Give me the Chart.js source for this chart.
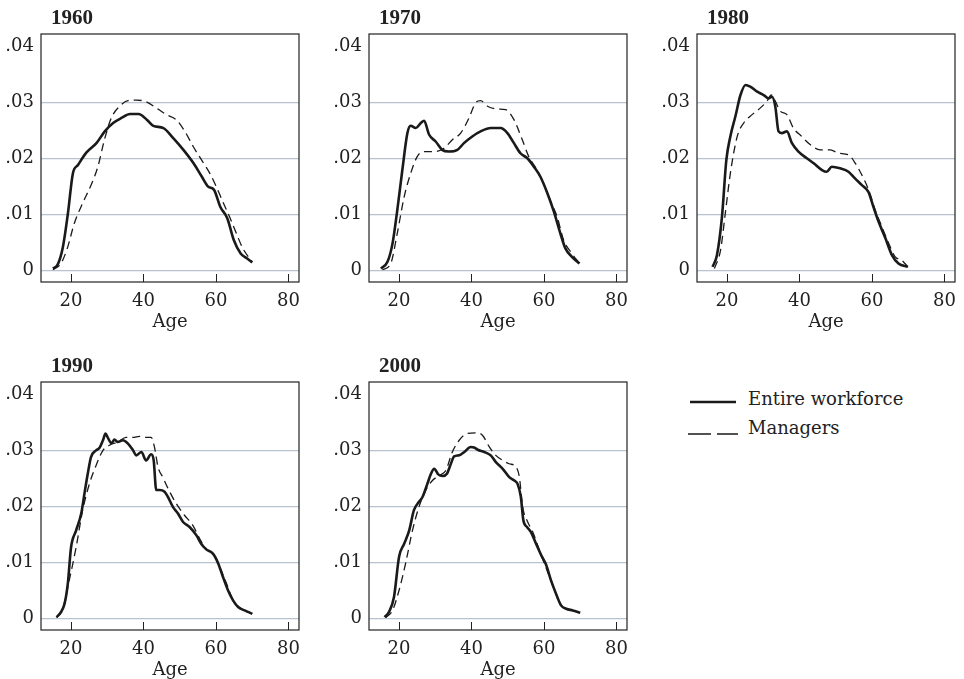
<!DOCTYPE html>
<html>
<head>
<meta charset="utf-8">
<script src="https://cdn.jsdelivr.net/npm/chart.js@4.4.1/dist/chart.umd.min.js"></script>
<style>
	body { margin: 0; background: #fff; width: 964px; height: 679px; position: relative; overflow: hidden; font-family: "DejaVu Serif", serif; color: #222; }
	canvas { position: absolute; }
	.ttl { position: absolute; font-family: "Liberation Serif", serif; font-weight: bold; font-size: 21px; line-height: 21px; color: #222; }
	.leg { position: absolute; font-size: 18px; line-height: 20px; color: #222; }
	.legline { position: absolute; }
</style>
</head>
<body>
<div class="legline" style="left:688px; top:392px;"><svg width="52" height="10"><line x1="2" y1="5" x2="48" y2="5" stroke="#1a1a1a" stroke-width="2.6"/></svg></div>
<div class="leg" style="left:748px; top:389px;">Entire workforce</div>
<div class="legline" style="left:686px; top:424px;"><svg width="56" height="10"><line x1="2" y1="5" x2="52" y2="5" stroke="#1a1a1a" stroke-width="1.3" stroke-dasharray="23 6"/></svg></div>
<div class="leg" style="left:748px; top:418px;">Managers</div>
<script>
// tick labels
var xTicks = [ 20, 40, 60, 80 ];
var yTicks = [ 0, 0.01, 0.02, 0.03, 0.04 ];
var years = [ "1960", "1970", "1980", "1990", "2000" ];

// 1960
var ageEntire1960 = [ 15, 16.3, 17.7, 19.1, 20.5, 21.9, 24.2, 27, 29.3, 31.6, 33.9, 36.3, 38.6, 40.9, 42.7, 45.5, 48.2, 51, 53.8, 56.1, 57.9, 59.4, 61.2, 63.1, 64.9, 66.8, 68.6, 70 ];
var entire1960 = [ 0.0003, 0.001, 0.004, 0.010, 0.0173, 0.0188, 0.021, 0.0227, 0.0248, 0.0263, 0.0272, 0.0279, 0.0279, 0.0269, 0.0258, 0.0254, 0.0236, 0.0215, 0.0191, 0.0167, 0.0149, 0.0144, 0.0113, 0.0093, 0.0054, 0.003, 0.0021, 0.0014 ];
var ageManagers1960 = [ 15, 17.2, 19, 20.9, 23.2, 25.5, 27.4, 29.2, 31.1, 33.4, 35.7, 38, 40.7, 43.5, 46.3, 49, 51.4, 53.7, 56, 58.3, 60.1, 61.9, 63.7, 65.6, 67.4, 70 ];
var managers1960 = [ 0.0001, 0.0012, 0.004, 0.0084, 0.012, 0.0152, 0.0185, 0.0233, 0.0272, 0.0293, 0.0303, 0.0304, 0.0301, 0.029, 0.0278, 0.0269, 0.0248, 0.0221, 0.0197, 0.0173, 0.0149, 0.0122, 0.0096, 0.0066, 0.0039, 0.0015 ];

// 1970
var ageEntire1970 = [ 15, 16.8, 18.2, 19.5, 20.9, 22.3, 23.2, 24.6, 26, 26.9, 28.3, 30.1, 31.9, 33.7, 36.1, 37.9, 40.2, 42.5, 45.3, 48, 49.9, 51.7, 53.5, 55.4, 57.2, 59, 60.9, 62.7, 64.5, 65.9, 67.7, 69.8 ];
var entire1970 = [ 0.0003, 0.0015, 0.0048, 0.0107, 0.0179, 0.0245, 0.0258, 0.0254, 0.0263, 0.0267, 0.0242, 0.023, 0.0215, 0.0212, 0.0215, 0.0227, 0.0239, 0.0248, 0.0254, 0.0254, 0.0245, 0.0227, 0.0209, 0.02, 0.0185, 0.0167, 0.0138, 0.0105, 0.0066, 0.0039, 0.0024, 0.0012 ];
var ageManagers1970 = [ 15.4, 17.7, 19.5, 21.4, 23.2, 25, 26.9, 29.6, 32.4, 34.7, 37, 39.3, 41.1, 42.5, 44.4, 47.1, 49.4, 51.7, 54, 55.8, 58.1, 59.9, 61.7, 63.6, 65.4, 67.7, 69.8 ];
var managers1970 = [ 0.0001, 0.0012, 0.0066, 0.0131, 0.0173, 0.0203, 0.0212, 0.0212, 0.0218, 0.0233, 0.0245, 0.0272, 0.0299, 0.0303, 0.0293, 0.0288, 0.0287, 0.0269, 0.0233, 0.0203, 0.0179, 0.0155, 0.0125, 0.0096, 0.0054, 0.003, 0.0012 ];

// 1980
var ageEntire1980 = [ 16, 17.2, 18.6, 19.8, 20.9, 22.3, 23.7, 25.1, 26.4, 28.3, 30.1, 31.5, 32.4, 33.3, 34.2, 35.1, 36.5, 37.9, 39.7, 42, 43.9, 46.2, 47.5, 48.9, 51.2, 53.5, 55.3, 57.2, 59, 60.4, 61.8, 63.7, 65.5, 67.3, 69.9 ];
var entire1980 = [ 0.0006, 0.0027, 0.0096, 0.0197, 0.0239, 0.0275, 0.0313, 0.0331, 0.0328, 0.0319, 0.0313, 0.0307, 0.031, 0.0293, 0.0248, 0.0245, 0.0248, 0.0227, 0.0212, 0.02, 0.0191, 0.0179, 0.0176, 0.0185, 0.0182, 0.0176, 0.0164, 0.0152, 0.014, 0.0113, 0.0087, 0.0057, 0.0027, 0.0012, 0.0006 ];
var ageManagers1980 = [ 16.5, 18.2, 19.5, 20.9, 22.8, 24.6, 26.9, 29.2, 31, 32.2, 33.3, 34.7, 36.5, 38.3, 40.6, 43, 45.7, 48.5, 50.8, 53.5, 55.4, 57.2, 59.1, 60.9, 62.7, 64.6, 66.4, 68.2, 69.9 ];
var managers1980 = [ 0.0003, 0.0036, 0.0101, 0.0173, 0.0239, 0.0263, 0.0278, 0.029, 0.0302, 0.0313, 0.0302, 0.0284, 0.0278, 0.0254, 0.0239, 0.0224, 0.0215, 0.0215, 0.0209, 0.0206, 0.0191, 0.017, 0.0143, 0.0107, 0.0078, 0.0048, 0.0024, 0.0018, 0.0006 ];

// 1990
var ageEntire1990 = [ 16, 17.2, 18.2, 19.1, 20, 21.4, 22.8, 23.7, 24.6, 25.5, 26.9, 27.8, 28.8, 29.5, 30.1, 31.1, 32, 32.9, 34.3, 35.7, 37.1, 38, 39.4, 40.7, 42.1, 42.8, 43.5, 44.4, 45.8, 46.7, 48.1, 49.5, 50.9, 52.7, 54.6, 55.9, 57.3, 59.2, 60.6, 61.9, 63.3, 64.7, 66.1, 67.9, 70 ];
var entire1990 = [ 0.0002, 0.0011, 0.0026, 0.0062, 0.0127, 0.0157, 0.0187, 0.0223, 0.0258, 0.0288, 0.03, 0.0304, 0.0318, 0.033, 0.0323, 0.0313, 0.0319, 0.0315, 0.0318, 0.0312, 0.03, 0.0291, 0.0297, 0.0282, 0.0293, 0.0282, 0.0229, 0.0229, 0.0226, 0.0217, 0.0199, 0.0187, 0.0172, 0.0163, 0.0148, 0.0133, 0.0123, 0.0115, 0.0098, 0.0074, 0.005, 0.0032, 0.002, 0.0014, 0.0008 ];
var ageManagers1990 = [ 16, 17.7, 19.5, 21.4, 23.2, 25.1, 26.9, 28.8, 30.6, 32.9, 35.2, 37.1, 38.9, 40.7, 42.1, 43, 44, 45.3, 47.2, 49, 51.3, 53.6, 55.5, 57.3, 59.2, 61, 62.9, 64.7, 66.5, 70 ];
var managers1990 = [ 0.0001, 0.0017, 0.0068, 0.0127, 0.0193, 0.0241, 0.0273, 0.03, 0.0309, 0.0315, 0.0323, 0.0323, 0.0325, 0.0323, 0.0323, 0.0306, 0.027, 0.0252, 0.0226, 0.0205, 0.0184, 0.0166, 0.0142, 0.0124, 0.0115, 0.0092, 0.0062, 0.0032, 0.0019, 0.0008 ];

// 2000
var ageEntire2000 = [ 16, 17.2, 18.6, 20, 21.4, 22.8, 24.1, 25.5, 26.5, 27.8, 28.8, 29.7, 30.8, 32, 33.2, 34.3, 35.2, 36.6, 38, 39.8, 40.7, 41.7, 43.5, 45.3, 46.7, 48.6, 50.4, 51.8, 52.7, 53.6, 54.3, 55.3, 56.4, 57.8, 59.2, 60.6, 61.9, 63.3, 64.7, 66.1, 67.9, 70 ];
var entire2000 = [ 0.0002, 0.0011, 0.0038, 0.011, 0.0133, 0.0157, 0.0193, 0.0208, 0.0217, 0.024, 0.0258, 0.0267, 0.0257, 0.0254, 0.0258, 0.0276, 0.0289, 0.0291, 0.0297, 0.0306, 0.0305, 0.0301, 0.0297, 0.0291, 0.0279, 0.0267, 0.0252, 0.0246, 0.024, 0.0217, 0.0175, 0.0163, 0.0154, 0.0133, 0.0113, 0.0095, 0.0068, 0.0044, 0.0023, 0.0017, 0.0014, 0.001 ];
var ageManagers2000 = [ 16.3, 18.2, 20, 21.8, 23.7, 25.5, 27.4, 29.2, 31.1, 32.9, 34.7, 36.6, 38.9, 41.2, 43, 44.9, 46.7, 48.6, 50.4, 52.3, 53.2, 54.1, 55.5, 56.9, 59.2, 61.9, 64.7, 67.9, 70 ];
var managers2000 = [ 0.0001, 0.0014, 0.005, 0.0098, 0.0157, 0.0199, 0.0229, 0.0246, 0.0255, 0.0264, 0.0297, 0.0318, 0.033, 0.0331, 0.0327, 0.0306, 0.0291, 0.0282, 0.0276, 0.027, 0.0252, 0.0199, 0.0172, 0.0154, 0.0113, 0.0068, 0.0023, 0.0014, 0.001 ];

var entireAges = [ ageEntire1960, ageEntire1970, ageEntire1980, ageEntire1990, ageEntire2000 ];
var entireVals = [ entire1960, entire1970, entire1980, entire1990, entire2000 ];
var managerAges = [ ageManagers1960, ageManagers1970, ageManagers1980, ageManagers1990, ageManagers2000 ];
var managerVals = [ managers1960, managers1970, managers1980, managers1990, managers2000 ];

// panel boxes (plot area corners)
var boxLeft = [ 41, 369, 697, 41, 369 ];
var boxTop = [ 34, 34, 34, 382, 382 ];
var boxW = 258, boxH = 248;
var padL = 41, padT = 34, padR = 8, padB = 60;

function pts( xs, ys )
{
	return xs.map( ( x, i ) => ( { x: x, y: ys[ i ] } ) );
}

// frame round the plot area
var framePlugin = {
	id: 'frame',
	afterDraw: ( chart ) =>
	{
		var a = chart.chartArea;
		var c = chart.ctx;
		c.save();
		c.strokeStyle = '#222';
		c.lineWidth = 1.2;
		c.strokeRect( a.left, a.top, a.right - a.left, a.bottom - a.top );
		c.restore();
	}
};

var serif = { family: '"DejaVu Serif", serif', size: 18 };

years.forEach( ( year, i ) =>
{
	var cv = document.createElement( 'canvas' );
	cv.width = padL + boxW + padR;
	cv.height = padT + boxH + padB;
	cv.style.left = ( boxLeft[ i ] - padL )+'px';
	cv.style.top = ( boxTop[ i ] - padT )+'px';
	document.body.appendChild( cv );

	var t = document.createElement( 'div' );
	t.className = 'ttl';
	t.textContent = year;
	t.style.left = ( boxLeft[ i ] + 10 )+'px';
	t.style.top = ( boxTop[ i ] - 27 )+'px';
	document.body.appendChild( t );

	new Chart( cv.getContext( '2d' ), {
		type: 'line',
		plugins: [ framePlugin ],
		data: {
			datasets: [ {
				label: 'Managers',
				data: pts( managerAges[ i ], managerVals[ i ] ),
				borderColor: '#1a1a1a',
				borderWidth: 1.3,
				borderDash: [ 8, 5 ],
				pointRadius: 0,
				cubicInterpolationMode: 'monotone'
			},
			{
				label: 'Entire workforce',
				data: pts( entireAges[ i ], entireVals[ i ] ),
				borderColor: '#1a1a1a',
				borderWidth: 2.6,
				pointRadius: 0,
				cubicInterpolationMode: 'monotone'
			} ]
		},
		options: {
			responsive: false,
			animation: false,
			events: [],
			layout: { padding: { top: padT, right: padR, left: 0, bottom: 0 } },
			plugins: { legend: { display: false }, tooltip: { enabled: false } },
			scales: {
				x: {
					type: 'linear',
					min: 11.7,
					max: 82.9,
					afterBuildTicks: ( s ) => { s.ticks = xTicks.map( v => ( { value: v } ) ); },
					afterFit: ( s ) => { s.height = padB; s.paddingLeft = 0; s.paddingRight = 0; },
					border: { display: false },
					grid: { drawOnChartArea: false, drawTicks: true, tickLength: -8, tickColor: '#222', lineWidth: 1 },
					ticks: { color: '#222', font: serif, padding: 17, maxRotation: 0 },
					title: { display: true, text: 'Age', color: '#222', font: serif, padding: { top: 0, bottom: 9 } }
				},
				y: {
					min: -0.0021,
					max: 0.0422,
					afterBuildTicks: ( s ) => { s.ticks = yTicks.map( v => ( { value: v } ) ); },
					afterFit: ( s ) => { s.width = padL; s.paddingTop = 0; s.paddingBottom = 0; },
					border: { display: false },
					grid: {
						drawTicks: false,
						lineWidth: 1.2,
						color: ( ctx ) => ctx.tick && ctx.tick.value > 0.035 ? 'rgba(0,0,0,0)' : '#b9c2cd'
					},
					ticks: {
						color: '#222',
						font: serif,
						padding: 7,
						callback: ( v ) => v === 0 ? '0' : '.0'+Math.round( v*100 )
					}
				}
			}
		}
	} );
} );
</script>
</body>
</html>
